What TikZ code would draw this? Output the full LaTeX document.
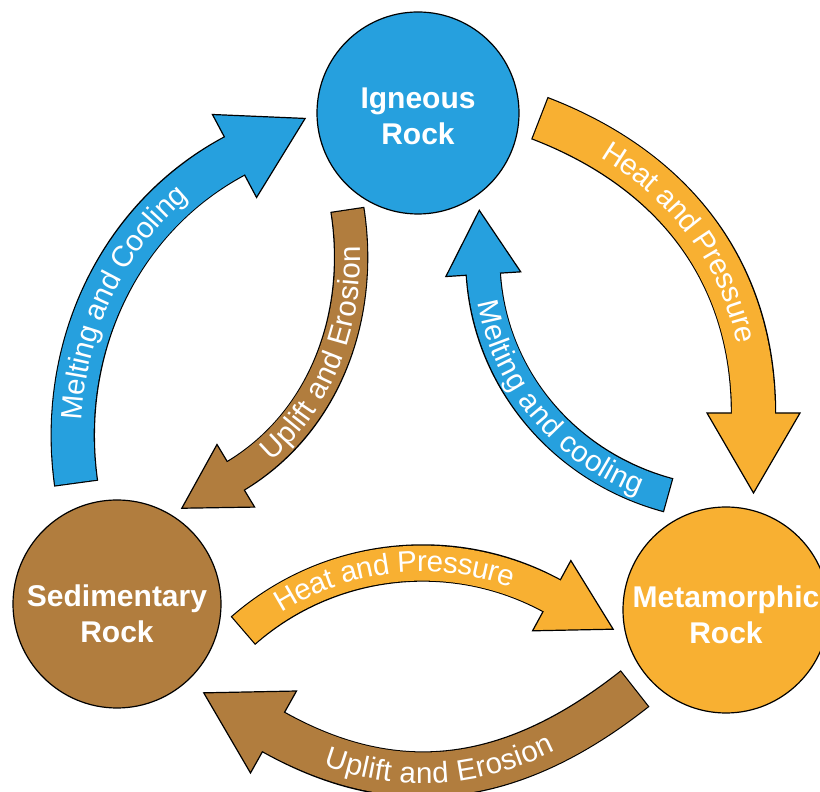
\documentclass[tikz,border=0pt]{standalone}
\usepackage{fontspec}
\setmainfont{Liberation Sans}
\usepackage{tikz}
\usetikzlibrary{calc,decorations.text}

\definecolor{igneousblue}{RGB}{38,160,222}
\definecolor{metaorange}{RGB}{248,176,50}
\definecolor{sedbrown}{RGB}{177,125,62}
\newcommand{\bandfont}{\fontsize{29.5}{32}\selectfont}

\begin{document}
\begin{tikzpicture}[
    x=1pt, y=1pt,
    % Style des trois roches (cercles)
    rocknode/.style={circle, draw=black, line width=1.2pt, inner sep=0pt},
    % Nom de la roche, au centre du cercle
    rocklabel/.style={text=white, align=center, font=\fontsize{30}{36}\selectfont\bfseries},
    % Contour noir des bandes
    bandedge/.style={draw=black, line width=#1, shorten <=-1.2pt},
    % Couleur des bandes
    bandfill/.style={line width=#1, shorten >=-2pt},
    % Pointes de fleche
    headtip/.style={draw=black, line width=1.2pt, line join=miter},
    % Texte le long des bandes
    bandtext/.style={decorate, decoration={text along path, text align=center, text color=white, raise=-9pt}}
]
\useasboundingbox (0,0) rectangle (820,792);

% Roches
\node[rocknode, fill=igneousblue, minimum size=202pt,
    label={[rocklabel, yshift=-3pt]center:Igneous\\Rock}] (igneous) at (418,679) {};
\node[rocknode, fill=sedbrown, minimum size=208pt,
    label={[rocklabel, yshift=-10pt]center:Sedimentary\\Rock}] (sedimentary) at (117,188) {};
\node[rocknode, fill=metaorange, minimum size=206pt,
    label={[rocklabel, yshift=-5pt]center:Metamorphic\\Rock}] (metamorphic) at (726,182) {};

% Sedimentary -> Igneous
\coordinate (a-tail) at (76,309.5);
\coordinate (a-neck) at (234.5,636);
\coordinate (a-tip) at ($(a-neck)+(28:80)$);
\draw[bandedge=44.4pt] (a-tail) .. controls +(98:133) and +(208:133) .. (a-neck);
\filldraw[headtip, fill=igneousblue] ($(a-neck)!47pt!90:(a-tip)$) -- (a-tip) -- ($(a-neck)!47pt!-90:(a-tip)$) -- cycle;
\draw[bandfill=42pt, igneousblue] (a-tail) .. controls +(98:133) and +(208:133) .. (a-neck);
\path[bandtext, decoration={text={|\bandfont|Melting and Cooling}}] (a-tail) .. controls +(98:133) and +(208:133) .. (a-neck);

% Igneous -> Sedimentary
\coordinate (b-tail) at (347.5,581.5);
\coordinate (b-neck) at (235.8,316.2);
\coordinate (b-tip) at ($(b-neck)+(211:63)$);
\draw[bandedge=34.4pt] (b-tail) .. controls +(279:105) and +(31:105) .. (b-neck);
\filldraw[headtip, fill=sedbrown] ($(b-neck)!36.5pt!90:(b-tip)$) -- (b-tip) -- ($(b-neck)!36.5pt!-90:(b-tip)$) -- cycle;
\draw[bandfill=32pt, sedbrown] (b-tail) .. controls +(279:105) and +(31:105) .. (b-neck);
\path[bandtext, decoration={text={|\bandfont|Uplift and Erosion}}] (b-neck) .. controls +(31:105) and +(279:105) .. (b-tail);

% Igneous -> Metamorphic
\coordinate (c-tail) at (540.5,673.5);
\coordinate (c-neck) at (753.5,379);
\coordinate (c-tip) at ($(c-neck)+(270:80)$);
\draw[bandedge=45.4pt] (c-tail) .. controls +(339:142) and +(90:142) .. (c-neck);
\filldraw[headtip, fill=metaorange] ($(c-neck)!46.5pt!90:(c-tip)$) -- (c-tip) -- ($(c-neck)!46.5pt!-90:(c-tip)$) -- cycle;
\draw[bandfill=43pt, metaorange] (c-tail) .. controls +(339:142) and +(90:142) .. (c-neck);
\path[bandtext, decoration={text={|\bandfont|Heat and Pressure}}] (c-tail) .. controls +(339:142) and +(90:142) .. (c-neck);

% Metamorphic -> Igneous
\coordinate (d-tail) at (667.5,297);
\coordinate (d-neck) at (483.3,517.8);
\coordinate (d-tip) at ($(d-neck)+(93.6:64)$);
\draw[bandedge=35.4pt] (d-tail) .. controls +(165:106) and +(273.6:106) .. (d-neck);
\filldraw[headtip, fill=igneousblue] ($(d-neck)!37.5pt!90:(d-tip)$) -- (d-tip) -- ($(d-neck)!37.5pt!-90:(d-tip)$) -- cycle;
\draw[bandfill=33pt, igneousblue] (d-tail) .. controls +(165:106) and +(273.6:106) .. (d-neck);
\path[bandtext, decoration={text={|\bandfont|Melting and cooling}}] (d-neck) .. controls +(273.6:106) and +(165:106) .. (d-tail);

% Sedimentary -> Metamorphic
\coordinate (e-tail) at (243.8,162);
\coordinate (e-neck) at (551.7,196.3);
\coordinate (e-tip) at ($(e-neck)+(331.4:70)$);
\draw[bandedge=37.4pt] (e-tail) .. controls +(41.3:113) and +(151.4:113) .. (e-neck);
\filldraw[headtip, fill=metaorange] ($(e-neck)!40pt!90:(e-tip)$) -- (e-tip) -- ($(e-neck)!40pt!-90:(e-tip)$) -- cycle;
\draw[bandfill=35pt, metaorange] (e-tail) .. controls +(41.3:113) and +(151.4:113) .. (e-neck);
\path[bandtext, decoration={text={|\bandfont|Heat and Pressure}}] (e-tail) .. controls +(41.3:113) and +(151.4:113) .. (e-neck);

% Metamorphic -> Sedimentary
\coordinate (f-tail) at (634.2,102.8);
\coordinate (f-neck) at (273.5,60);
\coordinate (f-tip) at ($(f-neck)+(150.7:80)$);
\draw[bandedge=46.4pt] (f-tail) .. controls +(218.3:148) and +(330.7:148) .. (f-neck);
\filldraw[headtip, fill=sedbrown] ($(f-neck)!47pt!90:(f-tip)$) -- (f-tip) -- ($(f-neck)!47pt!-90:(f-tip)$) -- cycle;
\draw[bandfill=44pt, sedbrown] (f-tail) .. controls +(218.3:148) and +(330.7:148) .. (f-neck);
\path[bandtext, decoration={text={|\bandfont|Uplift and Erosion}, text align={center, right indent=40pt}}] (f-neck) .. controls +(330.7:148) and +(218.3:148) .. (f-tail);

\end{tikzpicture}
\end{document}
